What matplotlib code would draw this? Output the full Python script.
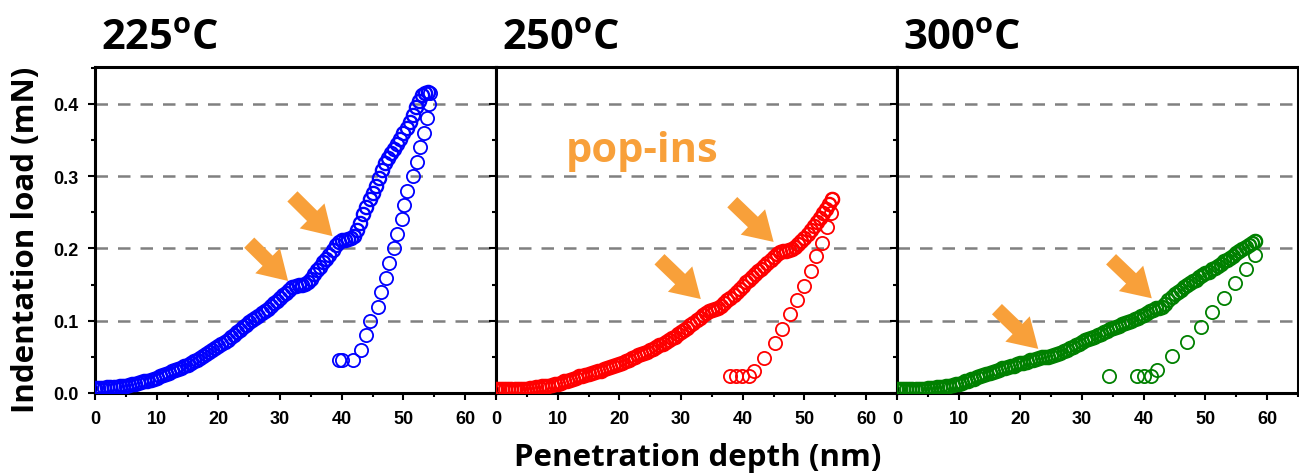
import numpy as np
import matplotlib
matplotlib.use("Agg")
import matplotlib.pyplot as plt
from matplotlib.ticker import MultipleLocator, FormatStrFormatter

plt.rcParams['mathtext.fontset'] = 'custom'
plt.rcParams['mathtext.rm'] = 'Open Sans:bold'

# loading branch (depth nm, load mN)
load_x_225 = [0, 0.5, 1, 1.5, 2, 2.5, 3, 3.5, 4, 4.5, 5, 5.5, 6, 6.5, 7, 7.5, 8, 8.5, 9, 9.5,
              10, 10.5, 11, 11.5, 12, 12.5, 13, 13.5, 14, 14.5, 15, 15.5, 16, 16.5, 17, 17.5,
              18, 18.5, 19, 19.5, 20, 20.5, 21, 21.5, 22, 22.5, 23, 23.5, 24, 24.5, 25, 25.5,
              26, 26.5, 27, 27.5, 28, 28.5, 29, 29.5, 30, 30.5, 31, 31.5, 32, 32.5, 33, 33.5,
              34, 34.5, 35, 35.5, 36, 36.5, 37, 37.5, 38, 38.5, 39, 39.5, 40, 40.5, 41, 41.5,
              42, 42.5, 43, 43.5, 44, 44.5, 45, 45.5, 46, 46.5, 47, 47.5, 48, 48.5, 49, 49.5,
              50, 50.5, 51, 51.5, 52, 52.5, 53, 53.5, 54]
load_y_225 = [0.007, 0.007, 0.007, 0.007, 0.008, 0.008, 0.008, 0.008, 0.009, 0.009, 0.010,
              0.011, 0.012, 0.013, 0.014, 0.015, 0.016, 0.017, 0.018, 0.020, 0.021, 0.023,
              0.025, 0.026, 0.028, 0.030, 0.032, 0.033, 0.035, 0.037, 0.039, 0.041, 0.044,
              0.046, 0.049, 0.051, 0.054, 0.057, 0.060, 0.062, 0.065, 0.068, 0.071, 0.074,
              0.077, 0.080, 0.084, 0.087, 0.091, 0.094, 0.098, 0.101, 0.104, 0.107, 0.110,
              0.113, 0.116, 0.120, 0.124, 0.127, 0.131, 0.135, 0.139, 0.142, 0.146, 0.148,
              0.149, 0.150, 0.151, 0.154, 0.158, 0.164, 0.170, 0.175, 0.181, 0.186, 0.191,
              0.198, 0.205, 0.209, 0.211, 0.212, 0.213, 0.214, 0.217, 0.225, 0.235, 0.247,
              0.258, 0.268, 0.277, 0.287, 0.297, 0.308, 0.318, 0.325, 0.332, 0.338, 0.345,
              0.352, 0.360, 0.367, 0.375, 0.385, 0.395, 0.404, 0.412, 0.415, 0.416]
unload_x_225 = [54.3, 54.2, 53.8, 53.4, 52.6, 52.2, 51.5, 50.6, 50.1, 49.7, 48.9, 48.4, 47.7,
                47.1, 46.4, 45.9, 44.5, 43.9, 43.1, 41.9, 40.0, 39.6]
unload_y_225 = [0.415, 0.40, 0.38, 0.36, 0.34, 0.32, 0.30, 0.28, 0.26, 0.241, 0.22, 0.20, 0.18,
                0.159, 0.14, 0.119, 0.10, 0.08, 0.06, 0.046, 0.046, 0.046]

load_x_250 = [0, 0.5, 1, 1.5, 2, 2.5, 3, 3.5, 4, 4.5, 5, 5.5, 6, 6.5, 7, 7.5, 8, 8.5, 9, 9.5,
              10, 10.5, 11, 11.5, 12, 12.5, 13, 13.5, 14, 14.5, 15, 15.5, 16, 16.5, 17, 17.5,
              18, 18.5, 19, 19.5, 20, 20.5, 21, 21.5, 22, 22.5, 23, 23.5, 24, 24.5, 25, 25.5,
              26, 26.5, 27, 27.5, 28, 28.5, 29, 29.5, 30, 30.5, 31, 31.5, 32, 32.5, 33, 33.5,
              34, 34.5, 35, 35.5, 36, 36.5, 37, 37.5, 38, 38.5, 39, 39.5, 40, 40.5, 41, 41.5,
              42, 42.5, 43, 43.5, 44, 44.5, 45, 45.5, 46, 46.5, 47, 47.5, 48, 48.5, 49, 49.5,
              50, 50.5, 51, 51.5, 52, 52.5, 53, 53.5, 54, 54.5]
load_y_250 = [0.005, 0.005, 0.006, 0.005, 0.005, 0.005, 0.005, 0.006, 0.006, 0.006, 0.006,
              0.007, 0.007, 0.008, 0.008, 0.009, 0.010, 0.010, 0.011, 0.012, 0.013, 0.014,
              0.016, 0.017, 0.018, 0.020, 0.021, 0.023, 0.024, 0.025, 0.026, 0.028, 0.029,
              0.030, 0.031, 0.033, 0.034, 0.036, 0.037, 0.039, 0.040, 0.042, 0.044, 0.046,
              0.048, 0.050, 0.052, 0.054, 0.055, 0.057, 0.059, 0.061, 0.063, 0.066, 0.068,
              0.071, 0.073, 0.076, 0.078, 0.081, 0.084, 0.087, 0.090, 0.094, 0.097, 0.101,
              0.104, 0.108, 0.111, 0.113, 0.115, 0.116, 0.118, 0.121, 0.125, 0.128, 0.132,
              0.136, 0.140, 0.144, 0.148, 0.153, 0.157, 0.161, 0.165, 0.169, 0.172, 0.176,
              0.180, 0.184, 0.188, 0.192, 0.195, 0.196, 0.197, 0.198, 0.199, 0.202, 0.206,
              0.210, 0.215, 0.220, 0.226, 0.231, 0.236, 0.242, 0.249, 0.255, 0.262, 0.268]
unload_x_250 = [54.5, 54.3, 53.7, 52.8, 51.8, 51.0, 49.9, 48.8, 47.7, 46.3, 45.2, 43.4, 41.8,
                41.0, 39.9, 38.9, 38.0]
unload_y_250 = [0.268, 0.249, 0.229, 0.208, 0.19, 0.169, 0.148, 0.128, 0.109, 0.089, 0.069,
                0.049, 0.031, 0.024, 0.024, 0.024, 0.024]

load_x_300 = [0, 0.5, 1, 1.5, 2, 2.5, 3, 3.5, 4, 4.5, 5, 5.5, 6, 6.5, 7, 7.5, 8, 8.5, 9, 9.5,
              10, 10.5, 11, 11.5, 12, 12.5, 13, 13.5, 14, 14.5, 15, 15.5, 16, 16.5, 17, 17.5,
              18, 18.5, 19, 19.5, 20, 20.5, 21, 21.5, 22, 22.5, 23, 23.5, 24, 24.5, 25, 25.5,
              26, 26.5, 27, 27.5, 28, 28.5, 29, 29.5, 30, 30.5, 31, 31.5, 32, 32.5, 33, 33.5,
              34, 34.5, 35, 35.5, 36, 36.5, 37, 37.5, 38, 38.5, 39, 39.5, 40, 40.5, 41, 41.5,
              42, 42.5, 43, 43.5, 44, 44.5, 45, 45.5, 46, 46.5, 47, 47.5, 48, 48.5, 49, 49.5,
              50, 50.5, 51, 51.5, 52, 52.5, 53, 53.5, 54, 54.5, 55, 55.5, 56, 56.5, 57, 57.5, 58]
load_y_300 = [0.006, 0.006, 0.006, 0.006, 0.006, 0.006, 0.006, 0.006, 0.006, 0.006, 0.007,
              0.007, 0.007, 0.008, 0.008, 0.008, 0.009, 0.010, 0.011, 0.012, 0.013, 0.014,
              0.016, 0.017, 0.019, 0.020, 0.022, 0.023, 0.025, 0.026, 0.028, 0.029, 0.031,
              0.032, 0.034, 0.035, 0.036, 0.037, 0.038, 0.040, 0.041, 0.042, 0.043, 0.045,
              0.046, 0.047, 0.049, 0.050, 0.050, 0.050, 0.051, 0.052, 0.054, 0.056, 0.058,
              0.060, 0.062, 0.064, 0.066, 0.068, 0.071, 0.073, 0.075, 0.076, 0.078, 0.080,
              0.082, 0.084, 0.086, 0.088, 0.090, 0.091, 0.093, 0.095, 0.097, 0.098, 0.100,
              0.102, 0.104, 0.106, 0.108, 0.110, 0.113, 0.115, 0.117, 0.118, 0.119, 0.123,
              0.128, 0.133, 0.137, 0.140, 0.143, 0.146, 0.149, 0.152, 0.155, 0.157, 0.160,
              0.163, 0.166, 0.168, 0.171, 0.173, 0.176, 0.179, 0.182, 0.184, 0.187, 0.190,
              0.193, 0.196, 0.199, 0.202, 0.205, 0.208, 0.210]
unload_x_300 = [58.1, 58.1, 56.5, 54.8, 53.0, 51.0, 49.2, 47.0, 44.5, 42.2, 41.2, 40.0, 38.9, 34.4]
unload_y_300 = [0.21, 0.191, 0.171, 0.152, 0.131, 0.112, 0.091, 0.07, 0.051, 0.032, 0.023,
                0.023, 0.023, 0.023]

# pop-in arrows: (tail, tip) in data coords
arrows_225 = [((25.0, 0.208), (31.3, 0.155)), ((32.0, 0.272), (38.5, 0.217))]
arrows_250 = [((26.5, 0.185), (33.2, 0.130)), ((38.3, 0.264), (45.0, 0.209))]
arrows_300 = [((16.2, 0.116), (22.9, 0.061)), ((34.7, 0.185), (41.3, 0.131))]

titles = ['225$^{\\mathrm{o}}$C', '250$^{\\mathrm{o}}$C', '300$^{\\mathrm{o}}$C']
colors = ['#0000ff', '#ff0000', '#008000']
orange = '#f8a03a'

panels = [
    (load_x_225, load_y_225, unload_x_225, unload_y_225, arrows_225),
    (load_x_250, load_y_250, unload_x_250, unload_y_250, arrows_250),
    (load_x_300, load_y_300, unload_x_300, unload_y_300, arrows_300),
]

fig = plt.figure(figsize=(12.99, 4.77), dpi=100)
W, H = 1299, 477
lefts = [95, 496, 897]
pw = 401
top, bottom = 68, 394

for i, (lx, ly, ux, uy, arr) in enumerate(panels):
    ax = fig.add_axes([lefts[i] / W, 1 - bottom / H, pw / W, (bottom - top) / H])
    ax.set_xlim(0, 65)
    ax.set_ylim(0, 0.451)
    for yv in [0.1, 0.2, 0.3, 0.4]:
        ax.axhline(yv, color='#808080', lw=1.8, ls=(0, (5, 4)), zorder=1)
    ax.plot(lx, ly, 'o', mfc='none', mec=colors[i], ms=9.5, mew=1.7, zorder=3)
    ax.plot(ux, uy, 'o', mfc='none', mec=colors[i], ms=9.5, mew=1.3, zorder=3)
    for tail, tip in arr:
        ax.annotate('', xy=tip, xytext=tail,
                    arrowprops=dict(arrowstyle='simple,head_length=0.9,head_width=1.1,tail_width=0.45',
                                    fc=orange, ec='none', mutation_scale=23,
                                    shrinkA=0, shrinkB=0), zorder=4)
    ax.xaxis.set_major_locator(MultipleLocator(10))
    ax.xaxis.set_minor_locator(MultipleLocator(5))
    ax.yaxis.set_major_locator(MultipleLocator(0.1))
    ax.yaxis.set_minor_locator(MultipleLocator(0.05))
    ax.yaxis.set_major_formatter(FormatStrFormatter('%.1f'))
    ax.tick_params(which='major', direction='out', length=5, width=1.5, pad=7)
    ax.tick_params(which='minor', direction='out', length=3, width=1.5)
    ax.tick_params(top=False, right=False)
    for s in ax.spines.values():
        s.set_linewidth(2.2)
    for lab in ax.get_xticklabels() + ax.get_yticklabels():
        lab.set_fontfamily('Liberation Sans')
        lab.set_fontweight('bold')
        lab.set_fontsize(13)
    if i > 0:
        ax.set_yticklabels([])
    ax.text(0.015, 1.055, titles[i], transform=ax.transAxes,
            fontfamily='Open Sans', fontweight='bold', fontsize=30, ha='left', va='baseline')
    if i == 1:
        ax.text(11.3, 0.335, 'pop-ins', color=orange, fontfamily='Open Sans',
                fontweight='bold', fontsize=30, ha='left', va='center')

fig.text(698 / W, 1 - 458 / H, 'Penetration depth (nm)', fontfamily='Open Sans',
         fontweight='bold', fontsize=22.5, ha='center', va='center')
fig.text(26 / W, 1 - 240 / H, 'Indentation load (mN)', fontfamily='Open Sans',
         fontweight='bold', fontsize=22.5, ha='center', va='center', rotation=90)

fig.savefig('out.png', dpi=100)
